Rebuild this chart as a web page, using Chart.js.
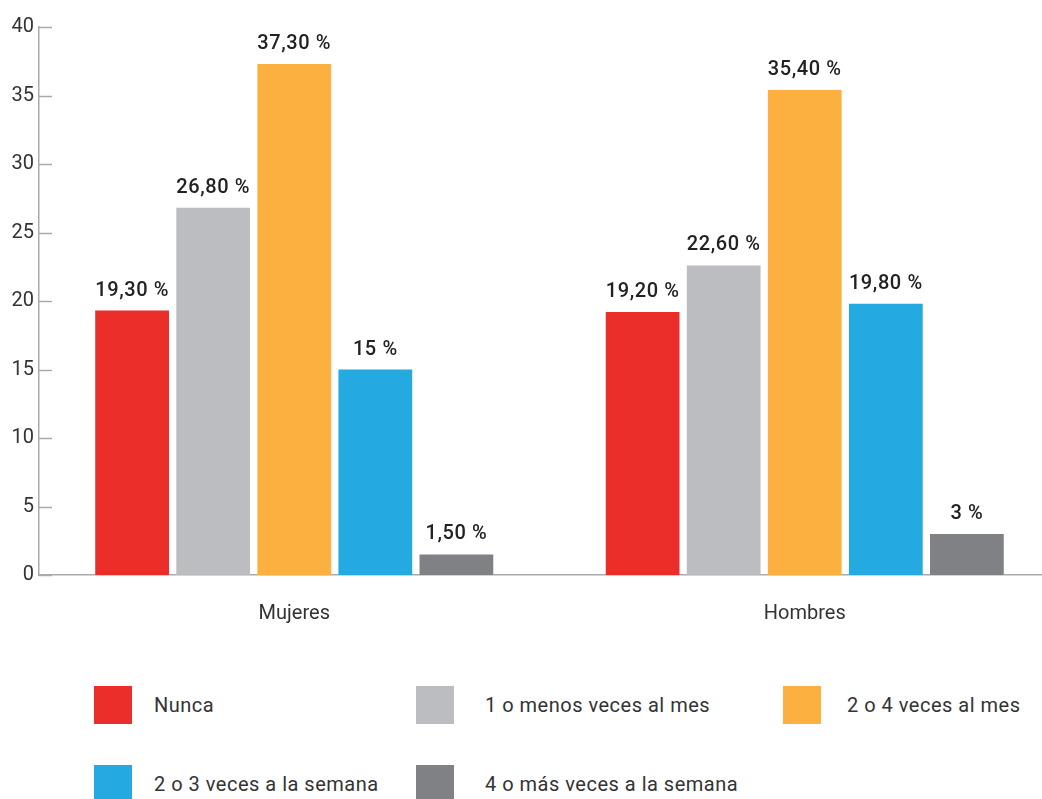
<!DOCTYPE html>
<html lang="es">
<head>
<meta charset="utf-8">
<script src="https://cdn.jsdelivr.net/npm/chart.js@4.4.1/dist/chart.umd.min.js"></script>
<style>
  html, body { margin: 0; padding: 0; background: #fff; overflow: hidden; }
  body { width: 1042px; height: 799px; position: relative; font-family: Roboto, "Noto Sans", sans-serif; }
  #wrap { position: absolute; left: 0; top: 0; width: 1060px; height: 640px; }
  .legend-item { position: absolute; display: flex; align-items: center; font-size: 20px; letter-spacing: 0.5px; color: #333; }
  .legend-item span.box { width: 38px; height: 38px; display: inline-block; }
</style>
</head>
<body>
<div id="wrap"><canvas id="chart"></canvas></div>
<div id="legend"></div>
<script>
const categories = ['Mujeres', 'Hombres'];
const seriesNames = ['Nunca', '1 o menos veces al mes', '2 o 4 veces al mes', '2 o 3 veces a la semana', '4 o más veces a la semana'];
const seriesColors = ['#EB2E29', '#BCBDC0', '#FBB040', '#24A9E1', '#808184'];
const nunca = [19.3, 19.2];
const menosUnaMes = [26.8, 22.6];
const dosCuatroMes = [37.3, 35.4];
const dosTresSemana = [15, 19.8];
const cuatroMasSemana = [1.5, 3];
const yTicks = [0, 5, 10, 15, 20, 25, 30, 35, 40];

const seriesValues = [nunca, menosUnaMes, dosCuatroMes, dosTresSemana, cuatroMasSemana];

function formatValue(v) {
    return (Number.isInteger(v) ? String(v) : v.toFixed(2).replace('.', ',')) + ' %';
}

// value labels above each bar
const barLabels = {
    id: 'barLabels',
    afterDatasetsDraw(chart) {
        const ctx = chart.ctx;
        ctx.save();
        ctx.font = '500 20px Roboto';
        ctx.letterSpacing = '0.6px';
        ctx.fillStyle = '#222';
        ctx.textAlign = 'center';
        ctx.textBaseline = 'bottom';
        chart.data.datasets.forEach((ds, i) => {
            chart.getDatasetMeta(i).data.forEach((bar, j) => {
                ctx.fillText(formatValue(ds.data[j]), bar.x, bar.y - 10);
            });
        });
        ctx.restore();
    }
};

// short tick marks pointing into the plot area
const innerTicks = {
    id: 'innerTicks',
    afterDraw(chart) {
        const y = chart.scales.y;
        const left = chart.chartArea.left;
        const ctx = chart.ctx;
        ctx.save();
        ctx.strokeStyle = '#aaa';
        ctx.lineWidth = 1.5;
        y.ticks.forEach((t) => {
            const py = Math.round(y.getPixelForValue(t.value)) + 0.5;
            ctx.beginPath();
            ctx.moveTo(left, py);
            ctx.lineTo(left + 13, py);
            ctx.stroke();
        });
        ctx.restore();
    }
};

new Chart(document.getElementById('chart'), {
    type: 'bar',
    data: {
        labels: categories,
        datasets: seriesNames.map((name, i) => ({
            label: name,
            data: seriesValues[i],
            backgroundColor: seriesColors[i],
            borderWidth: 0,
            categoryPercentage: 0.794,
            barPercentage: 0.91,
        })),
    },
    options: {
        responsive: true,
        maintainAspectRatio: false,
        animation: false,
        layout: { padding: { top: 27, right: 0, left: 0, bottom: 0 } },
        plugins: {
            legend: { display: false },
            tooltip: { enabled: false },
        },
        scales: {
            x: {
                grid: { display: false, drawTicks: false },
                border: { display: true, color: '#aaa', width: 1.5 },
                ticks: { color: '#333', font: { family: 'Roboto', size: 20 }, padding: 27 },
                afterFit(scale) { scale.height = 65; },
            },
            y: {
                min: 0,
                max: 40,
                afterBuildTicks(scale) { scale.ticks = yTicks.map((v) => ({ value: v })); },
                grid: { display: false, drawTicks: false },
                border: { display: true, color: '#aaa', width: 1.5 },
                ticks: { color: '#333', font: { family: 'Roboto', size: 20 }, padding: 5 },
                afterFit(scale) { scale.width = 39; },
            },
        },
    },
    plugins: [barLabels, innerTicks],
});

// legend laid out in three columns below the chart
const legendPos = [[94, 686], [416, 686], [783, 686], [94, 765], [416, 765]];
const legend = document.getElementById('legend');
seriesNames.forEach((name, i) => {
    const item = document.createElement('div');
    item.className = 'legend-item';
    item.style.left = legendPos[i][0] + 'px';
    item.style.top = legendPos[i][1] + 'px';
    const box = document.createElement('span');
    box.className = 'box';
    box.style.background = seriesColors[i];
    const text = document.createElement('span');
    text.textContent = name;
    text.style.marginLeft = (i === 2 ? 26 : i === 1 || i === 4 ? 31 : 22) + 'px';
    item.appendChild(box);
    item.appendChild(text);
    legend.appendChild(item);
});
</script>
</body>
</html>
